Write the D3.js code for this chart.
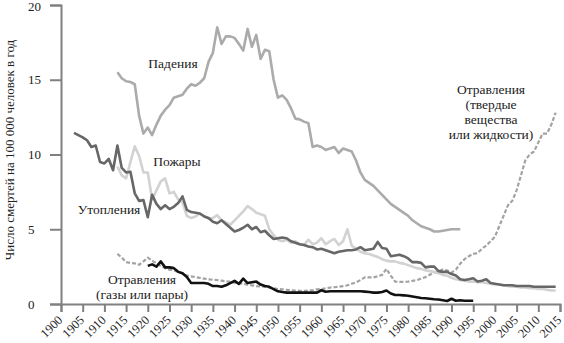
<!DOCTYPE html>
<html>
<head>
<meta charset="utf-8">
<script src="https://cdn.jsdelivr.net/npm/d3@7/dist/d3.min.js"></script>
<style>
  html, body { margin: 0; padding: 0; background: #fff; }
  svg { display: block; }
  text { font-family: "Liberation Serif", "DejaVu Serif", serif; fill: #222; }
</style>
</head>
<body>
<svg id="chart" width="564" height="343"></svg>
<script>
// Deaths per 100 000 people per year, by cause
const falls = [
  [1913,15.5],[1914,15.1],[1915,14.9],[1916,14.85],[1917,14.7],[1918,12.6],[1919,11.4],[1920,11.8],
  [1921,11.3],[1922,12.0],[1923,12.6],[1924,13.0],[1925,13.3],[1926,13.8],[1927,13.9],[1928,14.0],
  [1929,14.4],[1930,14.7],[1931,14.6],[1932,14.8],[1933,15.1],[1934,16.2],[1935,16.8],[1936,18.5],
  [1937,17.4],[1938,17.9],[1939,17.9],[1940,17.8],[1941,17.4],[1942,16.95],[1943,18.4],[1944,17.2],
  [1945,18.0],[1946,16.4],[1947,17.0],[1948,16.9],[1949,15.0],[1950,13.8],[1951,13.95],[1952,13.65],
  [1953,13.1],[1954,12.4],[1955,12.35],[1956,12.2],[1957,12.1],[1958,10.5],[1959,10.6],[1960,10.5],
  [1961,10.3],[1962,10.4],[1963,10.5],[1964,10.1],[1965,10.4],[1966,10.3],[1967,10.2],[1968,9.6],
  [1969,8.8],[1970,8.3],[1971,8.1],[1972,7.9],[1973,7.6],[1974,7.3],[1975,7.0],[1976,6.7],
  [1977,6.5],[1978,6.3],[1979,6.1],[1980,5.9],[1981,5.6],[1982,5.4],[1983,5.2],[1984,5.1],
  [1985,5.0],[1986,4.85],[1987,4.85],[1988,4.9],[1989,4.95],[1990,5.0],[1991,5.0],[1992,5.0]
];

const drownings = [
  [1903,11.45],[1904,11.3],[1905,11.15],[1906,10.95],[1907,10.5],[1908,10.6],[1909,9.5],[1910,9.4],
  [1911,9.7],[1912,8.95],[1913,10.6],[1914,9.1],[1915,8.8],[1916,8.85],[1917,7.4],[1918,6.9],
  [1919,6.95],[1920,5.8],[1921,7.3],[1922,6.7],[1923,6.35],[1924,6.6],[1925,6.35],[1926,6.5],
  [1927,6.75],[1928,7.2],[1929,6.3],[1930,6.15],[1931,6.1],[1932,6.05],[1933,5.85],[1934,5.75],
  [1935,5.5],[1936,5.4],[1937,5.6],[1938,5.35],[1939,5.1],[1940,4.85],[1941,4.95],[1942,5.1],
  [1943,5.3],[1944,5.0],[1945,5.15],[1946,4.8],[1947,4.9],[1948,4.6],[1949,4.35],[1950,4.4],
  [1951,4.45],[1952,4.4],[1953,4.2],[1954,4.1],[1955,4.0],[1956,3.95],[1957,3.85],[1958,3.8],
  [1959,3.65],[1960,3.7],[1961,3.6],[1962,3.5],[1963,3.4],[1964,3.5],[1965,3.55],[1966,3.6],
  [1967,3.6],[1968,3.65],[1969,3.8],[1970,3.6],[1971,3.65],[1972,3.7],[1973,4.15],[1974,3.75],
  [1975,3.7],[1976,3.2],[1977,3.25],[1978,3.3],[1979,3.2],[1980,3.05],[1981,2.8],[1982,2.8],
  [1983,2.75],[1984,2.45],[1985,2.5],[1986,2.5],[1987,2.2],[1988,2.15],[1989,2.15],[1990,2.0],
  [1991,1.9],[1992,1.65],[1993,1.6],[1994,1.65],[1995,1.72],[1996,1.5],[1997,1.55],[1998,1.65],
  [1999,1.4],[2000,1.35],[2001,1.3],[2002,1.25],[2003,1.25],[2004,1.25],[2005,1.2],[2006,1.2],
  [2007,1.2],[2008,1.2],[2009,1.15],[2010,1.15],[2011,1.15],[2012,1.15],[2013,1.15],[2014,1.15]
];

const fires = [
  [1913,9.2],[1914,8.6],[1915,8.4],[1916,9.5],[1917,10.55],[1918,9.9],[1919,8.8],[1920,8.8],
  [1921,7.0],[1922,7.6],[1923,8.2],[1924,8.4],[1925,7.4],[1926,7.5],[1927,7.0],[1928,6.8],
  [1929,5.9],[1930,5.75],[1931,5.85],[1932,6.05],[1933,5.9],[1934,5.7],[1935,5.75],[1936,5.95],
  [1937,5.6],[1938,5.45],[1939,5.3],[1940,5.6],[1941,5.9],[1942,6.2],[1943,6.55],[1944,6.35],
  [1945,6.1],[1946,6.0],[1947,5.9],[1948,5.0],[1949,4.6],[1950,4.3],[1951,4.2],[1952,4.3],
  [1953,4.1],[1954,4.2],[1955,4.0],[1956,3.95],[1957,4.3],[1958,4.0],[1959,4.1],[1960,4.4],
  [1961,4.0],[1962,4.2],[1963,4.35],[1964,3.95],[1965,4.2],[1966,5.0],[1967,3.9],[1968,3.7],
  [1969,3.5],[1970,3.4],[1971,3.35],[1972,3.25],[1973,3.15],[1974,3.0],[1975,2.9],[1976,2.85],
  [1977,2.85],[1978,2.75],[1979,2.7],[1980,2.6],[1981,2.5],[1982,2.4],[1983,2.35],[1984,2.25],
  [1985,2.2],[1986,2.15],[1987,2.05],[1988,1.95],[1989,1.9],[1990,1.75],[1991,1.65],[1992,1.6],
  [1993,1.55],[1994,1.5],[1995,1.5],[1996,1.45],[1997,1.45],[1998,1.4],[1999,1.35],[2000,1.3],
  [2001,1.3],[2002,1.25],[2003,1.2],[2004,1.15],[2005,1.15],[2006,1.1],[2007,1.1],[2008,1.05],
  [2009,1.05],[2010,1.0],[2011,1.0],[2012,0.95],[2013,0.9],[2014,0.9]
];

const poisonGas = [
  [1920,2.55],[1921,2.65],[1922,2.5],[1923,2.85],[1924,2.45],[1925,2.45],[1926,2.4],[1927,2.15],
  [1928,2.05],[1929,1.8],[1930,1.4],[1931,1.4],[1932,1.4],[1933,1.4],[1934,1.35],[1935,1.2],
  [1936,1.2],[1937,1.15],[1938,1.25],[1939,1.4],[1940,1.55],[1941,1.35],[1942,1.7],[1943,1.4],
  [1944,1.45],[1945,1.5],[1946,1.3],[1947,1.2],[1948,1.15],[1949,1.0],[1950,0.85],[1951,0.8],
  [1952,0.76],[1953,0.76],[1954,0.76],[1955,0.76],[1956,0.76],[1957,0.76],[1958,0.76],[1959,0.76],
  [1960,0.92],[1961,0.82],[1962,0.85],[1963,0.85],[1964,0.85],[1965,0.85],[1966,0.85],[1967,0.85],
  [1968,0.85],[1969,0.85],[1970,0.83],[1971,0.8],[1972,0.76],[1973,0.76],[1974,0.8],[1975,0.9],
  [1976,0.7],[1977,0.6],[1978,0.6],[1979,0.58],[1980,0.55],[1981,0.5],[1982,0.45],[1983,0.4],
  [1984,0.38],[1985,0.35],[1986,0.32],[1987,0.3],[1988,0.25],[1989,0.2],[1990,0.35],[1991,0.22],
  [1992,0.25],[1993,0.22],[1994,0.22],[1995,0.22]
];

const poisonSolid = [
  [1913,3.35],[1914,3.1],[1915,2.8],[1916,2.75],[1917,2.72],[1918,2.62],[1919,2.85],[1920,3.1],
  [1921,2.9],[1922,2.72],[1923,2.55],[1924,2.4],[1925,2.3],[1926,2.25],[1927,2.15],[1928,2.05],
  [1929,1.9],[1930,1.85],[1931,1.8],[1932,1.75],[1933,1.7],[1934,1.65],[1935,1.62],[1936,1.6],
  [1937,1.56],[1938,1.52],[1939,1.48],[1940,1.42],[1941,1.4],[1942,1.36],[1943,1.3],[1944,1.25],
  [1945,1.2],[1946,1.18],[1947,1.15],[1948,1.1],[1949,1.05],[1950,1.0],[1951,0.98],[1952,0.95],
  [1953,0.92],[1954,0.9],[1955,0.88],[1956,0.88],[1957,0.9],[1958,0.92],[1959,0.98],[1960,1.0],
  [1961,1.05],[1962,1.1],[1963,1.12],[1964,1.15],[1965,1.2],[1966,1.25],[1967,1.35],[1968,1.45],
  [1969,1.6],[1970,1.78],[1971,1.78],[1972,1.78],[1973,1.85],[1974,1.95],[1975,2.35],[1976,1.9],
  [1977,1.5],[1978,1.48],[1979,1.48],[1980,1.5],[1981,1.55],[1982,1.6],[1983,1.7],[1984,1.8],
  [1985,1.95],[1986,2.1],[1987,2.2],[1988,2.3],[1989,2.25],[1990,2.1],[1991,2.3],[1992,2.7],
  [1993,3.0],[1994,3.2],[1995,3.35],[1996,3.4],[1997,3.7],[1998,3.9],[1999,4.2],[2000,4.5],
  [2001,5.2],[2002,5.9],[2003,6.6],[2004,6.9],[2005,7.6],[2006,8.6],[2007,9.6],[2008,10.0],
  [2009,10.2],[2010,10.8],[2011,11.4],[2012,11.4],[2013,12.0],[2014,12.8]
];

const xTicks = d3.range(1900, 2016, 5);
const yTicks = [0, 5, 10, 15, 20];
const yTitle = "Число смертей на 100 000 человек в год";

const labels = [
  { lines: ["Падения"], x: 173, y: 68 },
  { lines: ["Пожары"], x: 177, y: 166 },
  { lines: ["Утопления"], x: 109, y: 214 },
  { lines: ["Отравления", "(газы или пары)"], x: 142, y: 284 },
  { lines: ["Отравления", "(твердые", "вещества", "или жидкости)"], x: 491, y: 94 }
];

const svg = d3.select("#chart");
const x = d3.scaleLinear().domain([1900, 2015]).range([61, 560]);
const y = d3.scaleLinear().domain([0, 20]).range([304, 5]);

const axisColor = "#808080";

// Y axis
const gy = svg.append("g").attr("transform", "translate(61,0)")
  .call(d3.axisLeft(y).tickValues(yTicks).tickSize(11).tickPadding(0));
gy.select(".domain").attr("stroke", axisColor).attr("stroke-width", 2);
gy.selectAll(".tick line").attr("stroke", axisColor).attr("stroke-width", 2);
gy.selectAll(".tick text")
  .attr("x", -33).attr("text-anchor", "start")
  .attr("dy", d => d === 20 ? "0.45em" : "0.32em")
  .style("font-family", "'Liberation Serif', serif").style("font-size", "13px").attr("fill", "#333");

// X axis
const gx = svg.append("g").attr("transform", "translate(0,304)")
  .call(d3.axisBottom(x).tickValues(xTicks).tickFormat(d3.format("d")).tickSize(8));
gx.select(".domain").attr("stroke", axisColor).attr("stroke-width", 2);
gx.selectAll(".tick line").attr("stroke", axisColor).attr("stroke-width", 2);
gx.selectAll(".tick text")
  .attr("text-anchor", "end")
  .attr("transform", "translate(0,15) rotate(-45)")
  .attr("x", 0).attr("y", 0).attr("dy", "0.2em")
  .style("font-family", "'Liberation Serif', serif").style("font-size", "12.5px").attr("fill", "#333");

// Y-axis title
svg.append("text")
  .attr("transform", "translate(14,150) rotate(-90)")
  .attr("text-anchor", "middle")
  .style("font-size", "13px")
  .text(yTitle);

const line = d3.line().x(d => x(d[0])).y(d => y(d[1]));

const series = [
  { data: poisonSolid, color: "#a3a3a3", width: 2.2, dash: "4,2" },
  { data: fires, color: "#d2d2d2", width: 2.6 },
  { data: falls, color: "#ababab", width: 2.6 },
  { data: drownings, color: "#676767", width: 2.6 },
  { data: poisonGas, color: "#111111", width: 2.6 }
];

svg.append("g").selectAll("path").data(series).join("path")
  .attr("d", s => line(s.data))
  .attr("fill", "none")
  .attr("stroke", s => s.color)
  .attr("stroke-width", s => s.width)
  .attr("stroke-linejoin", "round")
  .attr("stroke-dasharray", s => s.dash || null);

// Series annotations
labels.forEach(l => {
  const t = svg.append("text")
    .attr("text-anchor", "middle")
    .style("font-size", "13.5px");
  l.lines.forEach((s, i) => {
    t.append("tspan").attr("x", l.x).attr("y", l.y + i * 15).text(s);
  });
});
</script>
</body>
</html>
